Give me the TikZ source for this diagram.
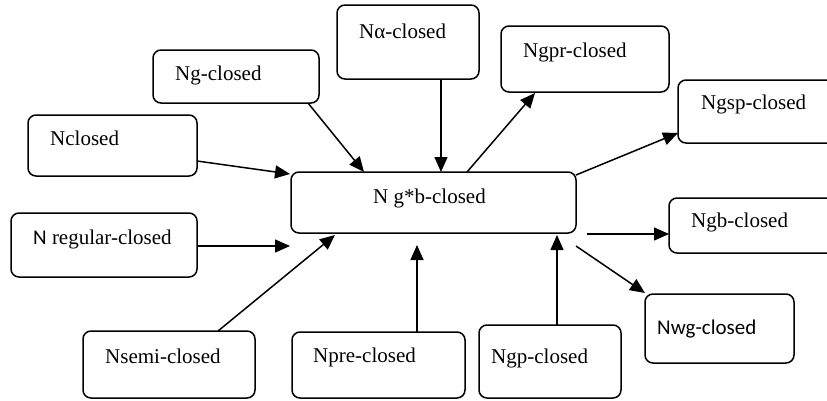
\documentclass[tikz,border=0pt]{standalone}
\usepackage{fontspec}
\setmainfont{Liberation Serif}
\newfontfamily\tnr{Liberation Serif}
\newfontfamily\calib{Carlito}
\usetikzlibrary{arrows.meta}
\tikzset{
  box/.style={draw, line width=1.5pt, rounded corners=8pt, inner sep=0pt},
  lbl/.style={anchor=west, inner sep=0pt, font=\tnr\fontsize{21}{25}\selectfont},
  conn/.style={line width=1.5pt, -{Triangle[length=15pt,width=13pt]}}
}
\begin{document}
\begin{tikzpicture}[x=1pt,y=-1pt]
\useasboundingbox (0,0) rectangle (827,400);
\clip (0,0) rectangle (827,400);
% boxes
\node[box, minimum width=142pt, minimum height=74pt] (alpha) at (408,42) {};
\node[box, minimum width=166pt, minimum height=53pt] (ng) at (236,76.5) {};
\node[box, minimum width=168pt, minimum height=66pt] (ngpr) at (585,59) {};
\node[box, minimum width=170pt, minimum height=63pt] (ngsp) at (763,111.5) {};
\node[box, minimum width=169pt, minimum height=61pt] (ncl) at (112.5,145.5) {};
\node[box, minimum width=285pt, minimum height=61pt] (ctr) at (433.5,202.5) {};
\node[box, minimum width=186pt, minimum height=64pt] (reg) at (104,245) {};
\node[box, minimum width=170pt, minimum height=55pt] (ngb) at (754,225.5) {};
\node[box, minimum width=149pt, minimum height=69pt] (nwg) at (719.5,328.5) {};
\node[box, minimum width=172pt, minimum height=67pt] (nsemi) at (169,364.5) {};
\node[box, minimum width=173pt, minimum height=66pt] (npre) at (378.5,365) {};
\node[box, minimum width=142pt, minimum height=73pt] (ngp) at (550,361.5) {};
% labels
\node[lbl] (alpha-t) at (359,31) {Nα-closed};
\node[lbl] (ng-t) at (175,75) {Ng-closed};
\node[lbl] (ngpr-t) at (523,52) {Ngpr-closed};
\node[lbl] (ngsp-t) at (701,104) {Ngsp-closed};
\node[lbl] (ncl-t) at (50,138) {Nclosed};
\node[lbl] (ctr-t) at (373,198) {N g*b-closed};
\node[lbl] (reg-t) at (33,239) {{\calib N} regular-closed};
\node[lbl] (ngb-t) at (691,222) {Ngb-closed};
\node[lbl, font=\calib\fontsize{21}{25}\selectfont] (nwg-t) at (657,329) {Nwg-closed};
\node[lbl] (nsemi-t) at (105,356) {Nsemi-closed};
\node[lbl] (npre-t) at (313,357) {Npre-closed};
\node[lbl] (ngp-t) at (491,358) {Ngp-closed};
% connector end points
\coordinate (p1) at (308,103);  \coordinate (q1) at (364,172);
\coordinate (p2) at (197,161);  \coordinate (q2) at (290,174);
\coordinate (p3) at (441,79);   \coordinate (q3) at (441,172);
\coordinate (p4) at (467,172);  \coordinate (q4) at (535,93);
\coordinate (p5) at (576,175);  \coordinate (q5) at (678,133);
\coordinate (p6) at (197,246);  \coordinate (q6) at (290,246);
\coordinate (p7) at (218,331);  \coordinate (q7) at (335,235);
\coordinate (p8) at (417,332);  \coordinate (q8) at (417,245);
\coordinate (p9) at (557,325);  \coordinate (q9) at (557,235);
\coordinate (p10) at (587,234); \coordinate (q10) at (669,234);
\coordinate (p11) at (576,246); \coordinate (q11) at (645,293);
% connectors
\draw[conn] (p1) -- (q1);
\draw[conn] (p2) -- (q2);
\draw[conn] (p3) -- (q3);
\draw[conn] (p4) -- (q4);
\draw[conn] (p5) -- (q5);
\draw[conn] (p6) -- (q6);
\draw[conn] (p7) -- (q7);
\draw[conn] (p8) -- (q8);
\draw[conn] (p9) -- (q9);
\draw[conn] (p10) -- (q10);
\draw[conn] (p11) -- (q11);
\end{tikzpicture}
\end{document}
